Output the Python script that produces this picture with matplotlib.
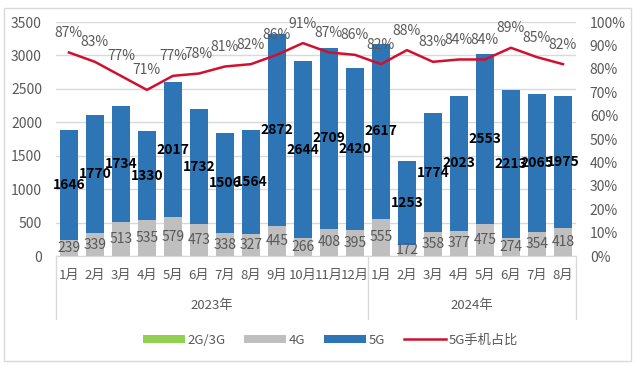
import matplotlib.pyplot as plt
from matplotlib.patches import Rectangle
import numpy as np

plt.rcParams['font.family'] = ['Noto Sans CJK SC', 'DejaVu Sans']

months = ['1月', '2月', '3月', '4月', '5月', '6月', '7月', '8月', '9月', '10月', '11月', '12月',
          '1月', '2月', '3月', '4月', '5月', '6月', '7月', '8月']
years = ['2023年', '2024年']
year_counts = [12, 8]

g23 = [0] * 20
g4 = [239, 339, 513, 535, 579, 473, 338, 327, 445, 266, 408, 395,
      555, 172, 358, 377, 475, 274, 354, 418]
g5 = [1646, 1770, 1734, 1330, 2017, 1732, 1506, 1564, 2872, 2644, 2709, 2420,
      2617, 1253, 1774, 2023, 2553, 2213, 2065, 1975]
share = [87, 83, 77, 71, 77, 78, 81, 82, 86, 91, 87, 86,
         82, 88, 83, 84, 84, 89, 85, 82]

C_GREEN = '#92D050'
C_GRAY = '#BFBFBF'
C_BLUE = '#2E75B6'
C_RED = '#D0102E'
C_TXT = '#595959'

fig = plt.figure(figsize=(6.35, 3.65), dpi=100)
ax = fig.add_axes([0.088, 0.2986, 0.819, 0.641])

x = np.arange(len(months))
w = 0.69
g23 = np.array(g23)
g4 = np.array(g4)
g5 = np.array(g5)
b1 = ax.bar(x, g23, w, color=C_GREEN, label='2G/3G', zorder=2)
b2 = ax.bar(x, g4, w, bottom=g23, color=C_GRAY, label='4G', zorder=2)
b3 = ax.bar(x, g5, w, bottom=g23 + g4, color=C_BLUE, label='5G', zorder=2)

for i in x:
    ax.text(i, g23[i] + g4[i] / 2, str(g4[i]), ha='center', va='center',
            fontsize=10, color=C_TXT, zorder=4)
    ax.text(i, g23[i] + g4[i] + g5[i] / 2, str(g5[i]), ha='center', va='center',
            fontsize=10, color='black', fontweight='bold', zorder=4)

ax.set_xlim(-0.5, len(months) - 0.5)
ax.set_ylim(0, 3500)
ax.set_yticks(range(0, 3501, 500))
ax.yaxis.grid(True, color='#D9D9D9', linewidth=1, zorder=0)
ax.set_axisbelow(True)
for s in ['top', 'right', 'left']:
    ax.spines[s].set_visible(False)
ax.spines['bottom'].set_color('#D9D9D9')
ax.tick_params(axis='y', length=0, labelsize=10, labelcolor=C_TXT, pad=10)
ax.set_xticks(x)
ax.set_xticklabels(months, fontsize=9.5, color=C_TXT)
ax.tick_params(axis='x', length=0, pad=9)

# year group labels and separators
start = 0
bounds = [-0.5]
for yr, n in zip(years, year_counts):
    ax.text(start + (n - 1) / 2, -0.21, yr, transform=ax.get_xaxis_transform(),
            ha='center', va='center', fontsize=9.5, color=C_TXT)
    start += n
    bounds.append(start - 0.5)
for b in bounds:
    ax.plot([b, b], [0, -0.27], transform=ax.get_xaxis_transform(),
            color='#D9D9D9', linewidth=1, clip_on=False)

ax2 = ax.twinx()
ax2.set_ylim(0, 1)
ax2.set_yticks(np.arange(0, 1.01, 0.1))
ax2.set_yticklabels([f'{int(round(t * 100))}%' for t in np.arange(0, 1.01, 0.1)])
ax2.tick_params(axis='y', length=0, labelsize=10, labelcolor=C_TXT, pad=10)
for s in ax2.spines.values():
    s.set_visible(False)
sv = np.array(share) / 100
ln, = ax2.plot(x, sv, color=C_RED, linewidth=1.8, label='5G手机占比', zorder=3)
for i in x:
    ax2.annotate(f'{share[i]}%', (i, sv[i]), xytext=(0, 9), textcoords='offset points',
                 ha='center', va='bottom', fontsize=10, color=C_TXT)

fig.legend([b1, b2, b3, ln], ['2G/3G', '4G', '5G', '5G手机占比'], loc='center',
           bbox_to_anchor=(0.52, 0.068), ncol=4, frameon=False, fontsize=9.5,
           labelcolor=C_TXT, handlelength=3.2, handleheight=0.6, columnspacing=1.4,
           handletextpad=0.2)

fig.patches.append(Rectangle((0.006, 0.012), 0.988, 0.965, transform=fig.transFigure,
                             fill=False, edgecolor='#D9D9D9', linewidth=1))

fig.savefig('out.png', dpi=100)
